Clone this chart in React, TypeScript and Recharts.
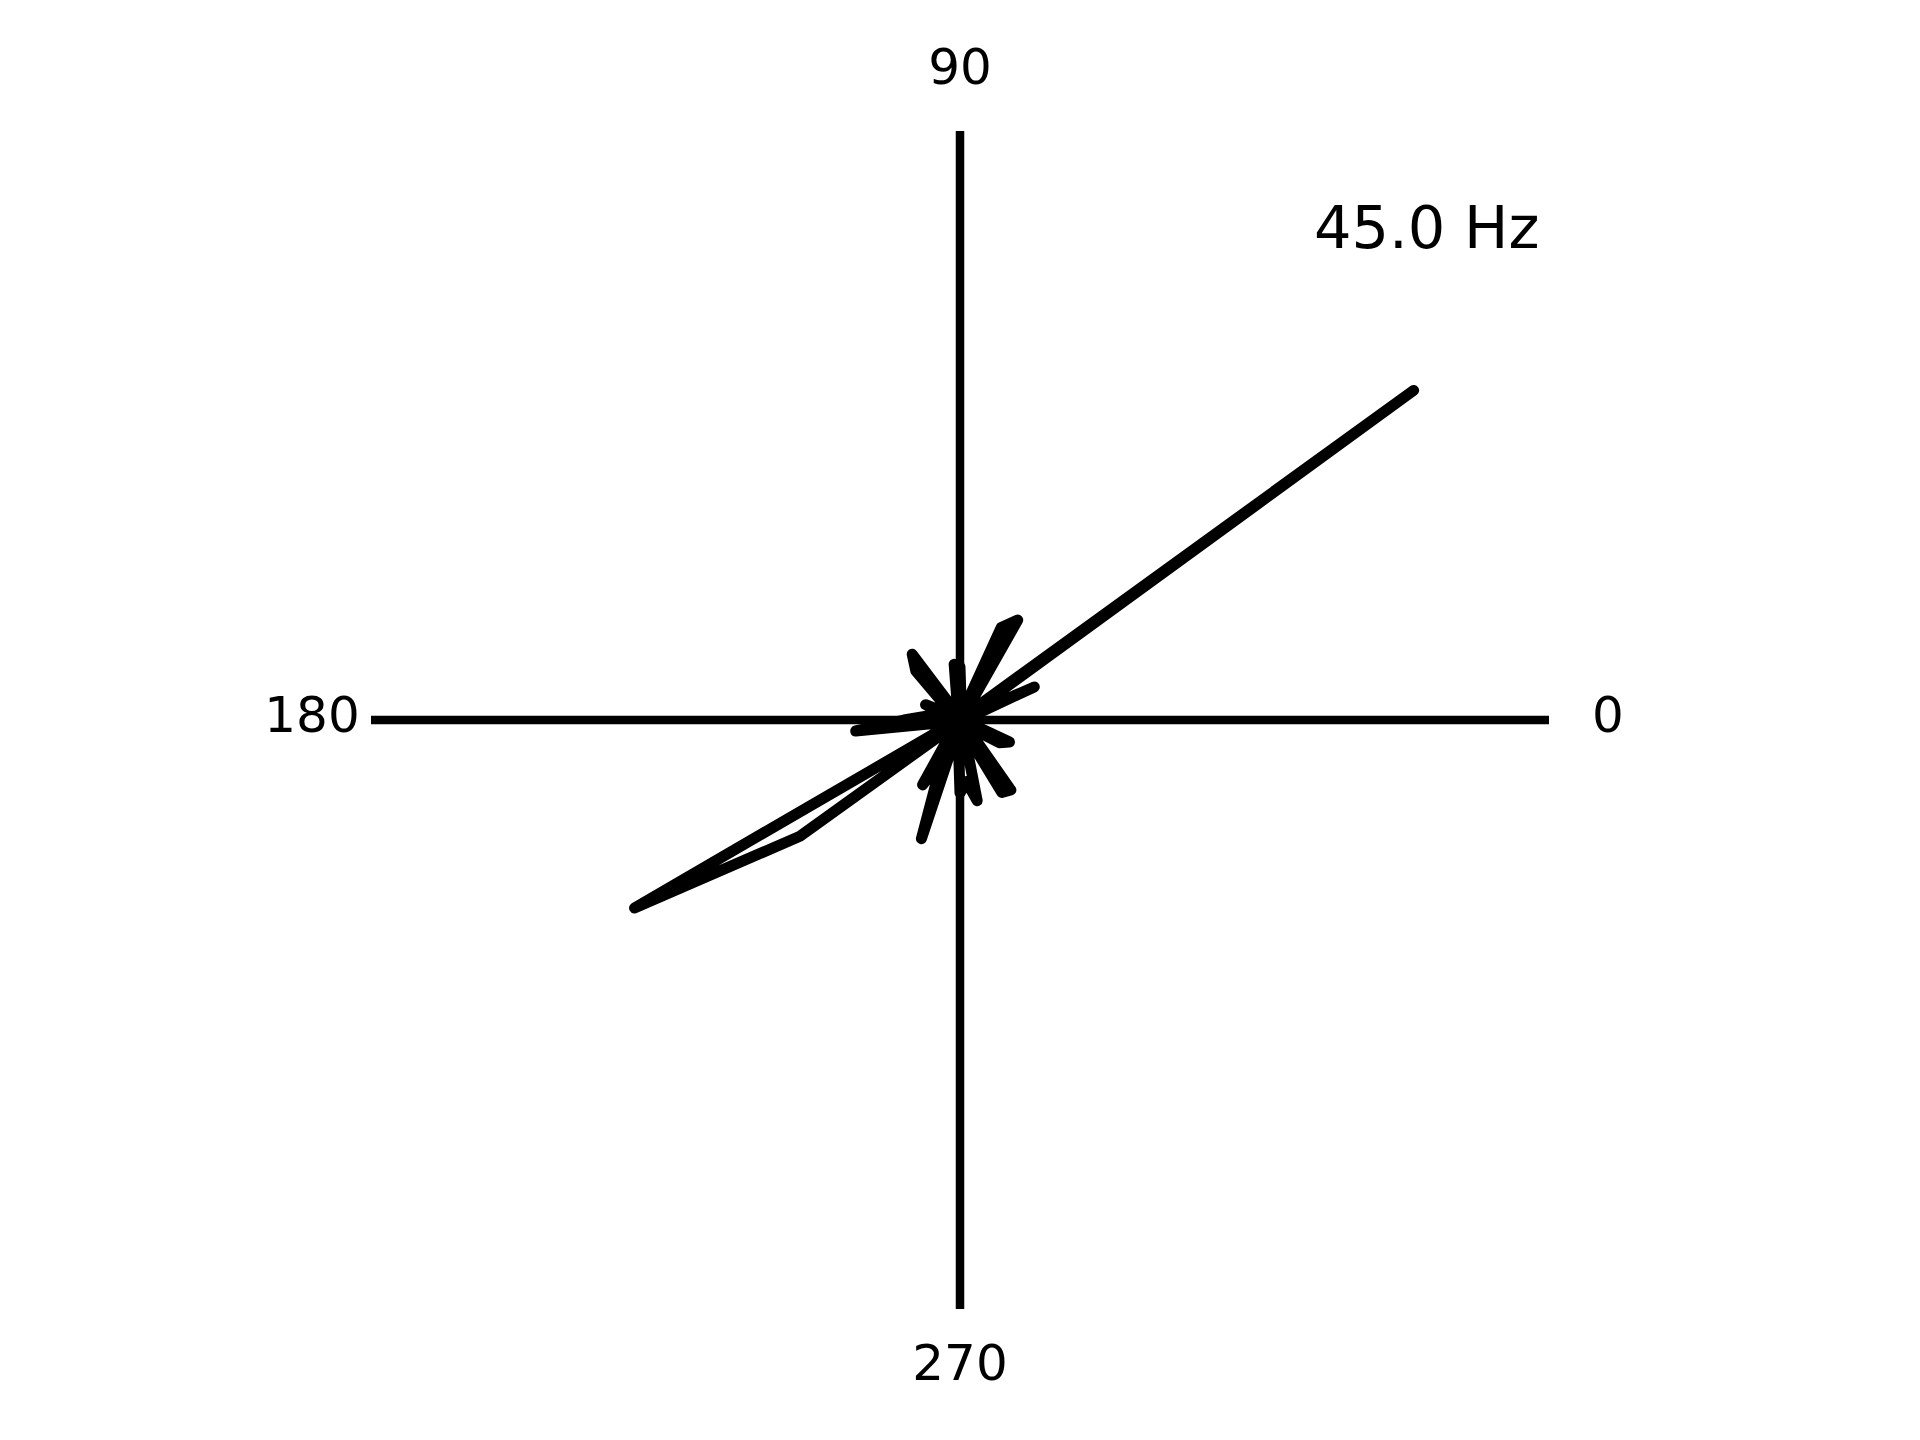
import { RadarChart, Radar, PolarGrid, PolarAngleAxis, PolarRadiusAxis } from 'recharts'

// ── data ────────────────────────────────────────────────────────
// direction of each sample (deg) and its magnitude (fraction of full radius)
const ANGLES = [
  0, 6, 12, 18, 24, 30, 36, 42, 48, 54,
  60, 66, 72, 78, 84, 90, 96, 102, 108, 114,
  120, 126, 132, 138, 144, 150, 156, 162, 168, 174,
  180, 186, 192, 198, 204, 210, 216, 222, 228, 234,
  240, 246, 252, 258, 264, 270, 276, 282, 288, 294,
  300, 306, 312, 318, 324, 330, 336, 342, 348, 354,
]
const MAGNITUDES = [
  0.010, 0.015, 0.010, 0.020, 0.138, 0.010, 0.952, 0.015, 0.020, 0.015,
  0.196, 0.172, 0.015, 0.010, 0.020, 0.090, 0.095, 0.020, 0.010, 0.015,
  0.020, 0.138, 0.112, 0.025, 0.020, 0.020, 0.064, 0.020, 0.030, 0.060,
  0.095, 0.178, 0.015, 0.010, 0.015, 0.638, 0.336, 0.015, 0.010, 0.020,
  0.127, 0.075, 0.212, 0.015, 0.030, 0.124, 0.105, 0.140, 0.020, 0.025,
  0.142, 0.147, 0.020, 0.015, 0.025, 0.077, 0.092, 0.015, 0.010, 0.015,
]
const ANGLE_TICKS = [0, 90, 180, 270]
const FREQ_LABEL = '45.0 Hz'

const data = ANGLES.map((angle, i) => ({ angle, r: MAGNITUDES[i] }))

const FONT = '"DejaVu Sans", sans-serif'

// eslint-disable-next-line @typescript-eslint/no-explicit-any
function AngleTick({ x, y, payload }: any) {
  if (payload.value === 360) return null
  return (
    <text x={x} y={y} dy={12} textAnchor="middle" fontSize={50} fontFamily={FONT} fill="#000">
      {payload.value}
    </text>
  )
}

export default function App() {
  return (
    <div style={{ position: 'absolute', left: 0, top: 0, width: 1920, height: 1440, background: '#fff' }}>
      <RadarChart
        width={1920}
        height={1440}
        data={data}
        cx={960}
        cy={720}
        innerRadius={0}
        outerRadius={589}
        startAngle={0}
        endAngle={360}
        margin={{ top: 0, right: 0, bottom: 0, left: 0 }}
      >
        <PolarGrid polarAngles={ANGLE_TICKS} polarRadius={[]} stroke="#000" strokeWidth={8.5} />
        <PolarAngleAxis
          dataKey="angle"
          type="number"
          domain={[0, 360]}
          ticks={ANGLE_TICKS}
          tickCount={5}
          tickSize={59}
          tickLine={false}
          axisLine={false}
          tick={AngleTick}
        />
        <PolarRadiusAxis domain={[0, 1]} type="number" tick={false} axisLine={false} />
        <Radar
          dataKey="r"
          stroke="#000"
          strokeWidth={11}
          strokeLinejoin="round"
          strokeLinecap="round"
          fill="none"
          fillOpacity={0}
          dot={false}
          isAnimationActive={false}
        />
        <text x={1314} y={248} fontSize={59} fontFamily={FONT} fill="#000">
          {FREQ_LABEL}
        </text>
      </RadarChart>
    </div>
  )
}
